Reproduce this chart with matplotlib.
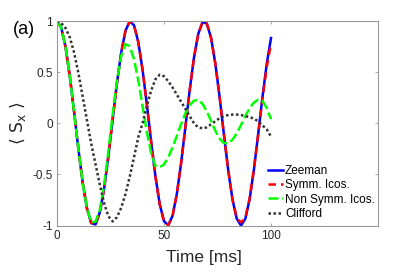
import matplotlib
matplotlib.use("Agg")
import matplotlib.pyplot as plt

plt.rcParams['font.family'] = ['Liberation Sans', 'DejaVu Sans']
plt.rcParams['mathtext.fontset'] = 'dejavusans'

# data (time in ms, <Sx>)
time_ms = list(range(0, 101, 2))

zeeman = [1.0, 0.934, 0.745, 0.457, 0.109, -0.253, -0.580, -0.833, -0.976, -0.990,
          -0.873, -0.641, -0.323, 0.036, 0.390, 0.690, 0.905, 0.997, 0.958, 0.792,
          0.520, 0.182, -0.182, -0.520, -0.792, -0.958, -0.997, -0.905, -0.690, -0.390,
          -0.036, 0.323, 0.641, 0.873, 0.989, 0.976, 0.834, 0.582, 0.253, -0.109,
          -0.457, -0.745, -0.934, -1.0, -0.934, -0.745, -0.457, -0.109, 0.253, 0.580,
          0.833]

symm_icos = [1.0, 0.934, 0.745, 0.457, 0.109, -0.253, -0.580, -0.833, -0.976, -0.990,
             -0.873, -0.641, -0.323, 0.036, 0.390, 0.690, 0.905, 0.997, 0.958, 0.792,
             0.520, 0.182, -0.182, -0.520, -0.792, -0.958, -0.997, -0.905, -0.690, -0.390,
             -0.036, 0.323, 0.641, 0.873, 0.989, 0.976, 0.834, 0.582, 0.253, -0.109,
             -0.457, -0.745, -0.930, -0.970, -0.925, -0.735, -0.450, -0.110, 0.240, 0.550,
             0.780]

non_symm_icos = [1.0, 0.934, 0.745, 0.457, 0.109, -0.253, -0.580, -0.833, -0.970, -0.963,
                 -0.847, -0.603, -0.274, 0.085, 0.413, 0.658, 0.774, 0.753, 0.626, 0.417,
                 0.164, -0.089, -0.294, -0.417, -0.430, -0.403, -0.333, -0.236, -0.123, -0.007,
                 0.097, 0.176, 0.221, 0.227, 0.190, 0.117, 0.022, -0.074, -0.151, -0.194,
                 -0.195, -0.161, -0.099, -0.017, 0.069, 0.147, 0.203, 0.229, 0.220, 0.150,
                 0.040]

clifford = [1.0, 0.98, 0.93, 0.84, 0.69, 0.49, 0.26, 0.03, -0.20, -0.40,
            -0.60, -0.78, -0.91, -0.96, -0.919, -0.827, -0.692, -0.522, -0.331, -0.135,
            0.0, 0.17, 0.32, 0.43, 0.475, 0.46, 0.41, 0.35, 0.28, 0.21,
            0.14, 0.07, 0.0, -0.04, -0.05, -0.04, -0.01, 0.02, 0.05, 0.07,
            0.08, 0.085, 0.085, 0.08, 0.07, 0.06, 0.045, 0.02, -0.02, -0.06,
            -0.13]

labels = ['Zeeman', 'Symm. Icos.', 'Non Symm. Icos.', 'Clifford']
yticks = [-1, -0.5, 0, 0.5, 1]
ytick_labels = ['-1', '-0.5', '0', '0.5', '1']
xticks = [0, 50, 100]

fig = plt.figure(figsize=(4.15, 2.78), dpi=100)
ax = fig.add_axes([57 / 415, 1 - 225.5 / 278, 321 / 415, 204.5 / 278])

ax.plot(time_ms, zeeman, color='#0000ff', lw=1.8, label=labels[0])
ax.plot(time_ms, symm_icos, color='#ff0000', lw=1.8, dashes=(3, 2), label=labels[1])
ax.plot(time_ms, non_symm_icos, color='#00ff00', lw=1.8, dashes=(4, 1.5), label=labels[2])
ax.plot(time_ms, clifford, color='#333333', lw=1.8, dashes=(1, 1), label=labels[3])

ax.set_xlim(0, 150)
ax.set_ylim(-1, 1)
ax.set_xticks(xticks)
ax.set_xticklabels([str(x) for x in xticks])
ax.set_yticks(yticks)
ax.set_yticklabels(ytick_labels)
ax.tick_params(direction='in', top=True, right=True, length=2.5, width=0.6,
               color='#999999', labelsize=8.5, labelcolor='#262626', pad=3)
for s in ax.spines.values():
    s.set_color('#999999')
    s.set_linewidth(0.8)

ax.set_xlabel('Time [ms]', fontsize=12.5, color='#262626')
ax.xaxis.set_label_coords(0.458, -0.12)
ax.set_ylabel(r'$\langle\ \mathsf{S_x}\ \rangle$', fontsize=12.5, color='#262626')
ax.yaxis.set_label_coords(-0.09, 0.5)

fig.text(13 / 415, 1 - 29.5 / 278, '(a)', fontsize=13, va='center', ha='left')

ax.legend(loc='lower right', bbox_to_anchor=(0.99, 0.027), frameon=False,
          fontsize=8.5, handlelength=1.3, handletextpad=0.15, labelspacing=0.2,
          borderpad=0, borderaxespad=0)

fig.savefig('out.png', dpi=100)
